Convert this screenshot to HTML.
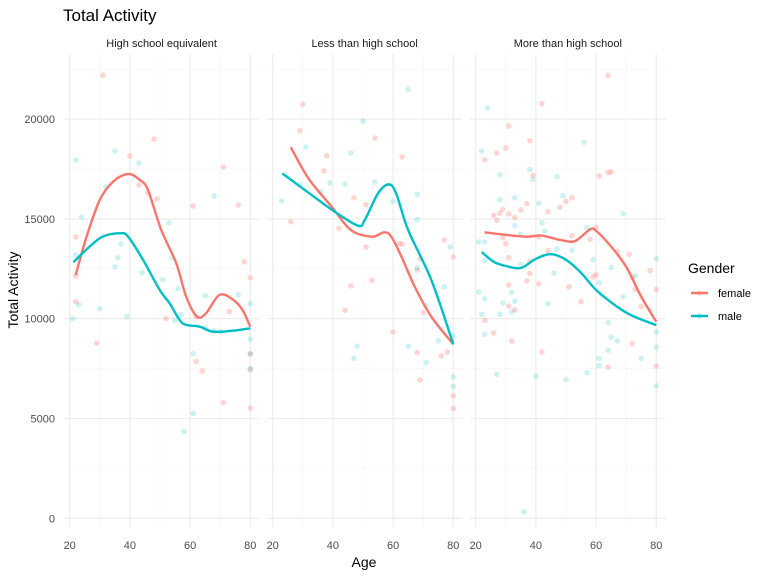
<!DOCTYPE html>
<html><head><meta charset="utf-8"><style>
body{margin:0;background:#fff;}
svg{display:block;font-family:"Liberation Sans",sans-serif;}
</style></head><body>
<svg id="chart" width="768" height="576">
<text x="63" y="21" font-size="17" fill="#000">Total Activity</text>
<text transform="translate(18,290) rotate(-90)" text-anchor="middle" font-size="14" fill="#000">Total Activity</text>
<text x="364" y="567" text-anchor="middle" font-size="14" fill="#000">Age</text>
<g>
<text x="688" y="273" font-size="14" fill="#000">Gender</text>
<g><line x1="691" y1="293" x2="708" y2="293" stroke="#F8766D" stroke-width="2.5"/><circle cx="699.5" cy="293" r="2.7" fill="#F8766D" opacity="0.3"/><text x="718" y="297" font-size="11" fill="#000">female</text></g>
<g><line x1="691" y1="316" x2="708" y2="316" stroke="#00BFC4" stroke-width="2.5"/><circle cx="699.5" cy="316" r="2.7" fill="#00BFC4" opacity="0.3"/><text x="718" y="320" font-size="11" fill="#000">male</text></g>
</g>
</svg>
<script>
const panelNames = ["High school equivalent","Less than high school","More than high school"];
const yTicks = [0,5000,10000,15000,20000];
const xTicks = [20,40,60,80];
// High school equivalent
const hsMaleAge = [21,22,24,22,23,30,35,32,37,36,35,39,43,44,53,51,54,56,55,57,65,68,76,80,61,61,58,68,70,65,80,80,80];
const hsMaleVal = [10000,17950,15100,13200,10700,10500,18400,16600,13750,13050,12600,10100,17800,12300,14800,11950,13050,11500,9900,10200,11150,16150,11200,10750,8250,5250,4350,9400,9350,9550,8980,8230,7500];
const hsFemAge = [31,22,22,22,29,40,48,43,46,49,61,71,76,78,80,52,62,73,62,64,71,80,80,80];
const hsFemVal = [22200,14100,12150,10850,8780,18150,19000,16700,16300,16000,15650,17600,15700,12850,12050,10000,10100,10350,7850,7380,5800,5520,7450,8250];
const hsFemFitAge = [22,25.6,30,34.4,39.4,43.3,46,50.4,55.4,58.7,62.3,65.3,69.7,74.1,77.4,80];
const hsFemFitVal = [12190,14110,15950,16860,17250,16950,16450,14450,12780,11100,10100,10270,11190,10970,10440,9600];
const hsMaleFitAge = [21.2,30,36.7,39.4,44.4,49.9,53.2,56.5,58.7,63.2,67.6,74.2,80];
const hsMaleFitVal = [12830,14030,14280,14110,12940,11440,10770,9940,9690,9600,9350,9400,9520];
// Less than high school
const ltMaleAge = [65,50,31,46,29,39,44,54,36,23,60,68,68,79,68,77,71,80,75,48,65,47,71,80,80];
const ltMaleVal = [21500,19900,18600,18300,16750,16800,16750,16850,16350,15900,15880,16230,14960,13590,12560,11600,10640,9150,8900,8630,8620,8020,7800,7080,6600];
const ltFemAge = [30,29,54,38,63,37,47,51,26,42,77,51,63,62,80,68,69,46,53,44,70,60,68,76,78,69,80,80];
const ltFemVal = [20740,19420,19050,18170,18100,17400,16060,15710,14860,14530,13940,13590,13730,13780,13090,12440,13000,11650,11920,10420,10300,9330,8300,8130,8330,6930,6140,5500];
const ltFemFitAge = [26,32,39.6,46,53,57,59.4,62.8,67.2,72.7,80];
const ltFemFitVal = [18590,17000,15610,14440,14110,14330,14110,13100,11600,10100,8720];
const ltMaleFitAge = [23.2,32,40.6,48.4,50.6,55,58.5,61,65,72.7,80];
const ltMaleFitVal = [17280,16300,15360,14660,14950,16280,16730,16280,14440,11940,8720];
// More than high school
const mtFemAge = [64,42,31,38,30,27,23,61,64,65,39,52,50,37,48,35,29,28,31,26,27,44,33,41,52,58,60,29,30,44,67,71,31,38,78,72,59,60,38,37,41,73,80,31,51,75,55,31,33,23,26,32,42,72,64,80];
const mtFemVal = [22190,20770,19650,18920,18550,18300,17960,17150,17320,17350,17180,16060,15880,15760,15580,15450,15480,15280,15250,15180,14930,15360,15060,14110,14160,13980,14560,14060,13760,13410,13380,13230,13060,12880,12410,12060,12100,12200,12270,11890,11750,11470,11470,11690,11600,10600,10850,10630,10440,9920,9280,8880,8330,8750,7570,7630];
const mtMaleAge = [24,56,22,38,28,47,39,49,33,28,41,69,42,33,57,43,35,21,23,52,47,23,59,80,35,65,46,61,73,21,32,23,69,33,29,44,32,28,22,64,78,23,65,67,64,61,61,75,80,80,80,27,40,50,57,36];
const mtMaleVal = [20570,18840,18400,17480,17200,17110,16980,16160,16060,15950,15780,15260,14810,14660,14560,14390,14230,13840,13840,13440,13490,12910,12960,13010,12730,12560,12290,11800,12150,11340,11320,11000,11100,10870,10790,10750,10340,10220,10220,9800,10420,9220,9080,8880,8420,8010,7650,8010,9330,8580,6630,7210,7110,6950,7300,330];
const mtFemFitAge = [23,30,37,42,48,53,58,60,65,70,75,80];
const mtFemFitVal = [14330,14200,14110,14160,13950,13890,14480,14400,13610,12600,11100,9850];
const mtMaleFitAge = [22,26,30,35,40,45,50,55,60,67,72,80];
const mtMaleFitVal = [13340,12850,12640,12540,13000,13230,12950,12300,11440,10600,10150,9670];

const panels = [
 {name:"high-school-equivalent", x20:69.7, left:64, right:259.3, fa:hsFemAge, fv:hsFemVal, ma:hsMaleAge, mv:hsMaleVal, ffa:hsFemFitAge, ffv:hsFemFitVal, mfa:hsMaleFitAge, mfv:hsMaleFitVal},
 {name:"less-than-high-school", x20:272.7, left:267, right:462.3, fa:ltFemAge, fv:ltFemVal, ma:ltMaleAge, mv:ltMaleVal, ffa:ltFemFitAge, ffv:ltFemFitVal, mfa:ltMaleFitAge, mfv:ltMaleFitVal},
 {name:"more-than-high-school", x20:475.7, left:470, right:665.7, fa:mtFemAge, fv:mtFemVal, ma:mtMaleAge, mv:mtMaleVal, ffa:mtFemFitAge, ffv:mtFemFitVal, mfa:mtMaleFitAge, mfv:mtMaleFitVal}
];
const NS="http://www.w3.org/2000/svg";
const svg=document.getElementById('chart');
const yScale=v=>518.3-v*0.01996;
function mk(tag,attrs,parent){const e=document.createElementNS(NS,tag);for(const k in attrs)e.setAttribute(k,attrs[k]);(parent||svg).appendChild(e);return e;}
function pathFrom(pts){let d="M"+pts[0][0]+","+pts[0][1];for(let i=0;i<pts.length-1;i++){const p0=pts[Math.max(i-1,0)],p1=pts[i],p2=pts[i+1],p3=pts[Math.min(i+2,pts.length-1)];const c1x=p1[0]+(p2[0]-p0[0])/6,c1y=p1[1]+(p2[1]-p0[1])/6,c2x=p2[0]-(p3[0]-p1[0])/6,c2y=p2[1]-(p3[1]-p1[1])/6;d+=" C"+c1x+","+c1y+" "+c2x+","+c2y+" "+p2[0]+","+p2[1];}return d;}
panels.forEach((p,pi)=>{
 const xs=a=>p.x20+(a-20)*3.01;
 const g=mk('g',{});
 
 
 for(let v=2500;v<=22500;v+=5000){const l=mk('line',{x1:p.left,x2:p.right,y1:yScale(v),y2:yScale(v),stroke:'#f3f3f3','stroke-width':0.6},g);}
 [30,50,70].forEach(a=>mk('line',{x1:xs(a),x2:xs(a),y1:54,y2:527,stroke:'#f3f3f3','stroke-width':0.6},g));
 yTicks.forEach(v=>{const l=mk('line',{x1:p.left,x2:p.right,y1:yScale(v),y2:yScale(v),stroke:'#ebebeb','stroke-width':1.1},g);});
 xTicks.forEach(a=>{mk('line',{x1:xs(a),x2:xs(a),y1:54,y2:527,stroke:'#ebebeb','stroke-width':1.1},g);
  const t=mk('text',{x:xs(a),y:549,'text-anchor':'middle','font-size':11,fill:'#4d4d4d'},g);t.textContent=a;
  });
 const st=mk('text',{x:(p.left+p.right)/2,y:47,'text-anchor':'middle','font-size':11,fill:'#1a1a1a'},g);st.textContent=panelNames[pi];
 
 p.fa.forEach((a,i)=>{const c=mk('circle',{cx:xs(a),cy:yScale(p.fv[i]),r:2.8,fill:'#F8766D','fill-opacity':0.3},g);});
 p.ma.forEach((a,i)=>{const c=mk('circle',{cx:xs(a),cy:yScale(p.mv[i]),r:2.8,fill:'#00BFC4','fill-opacity':0.2},g);});
 const fl=mk('path',{d:pathFrom(p.ffa.map((a,i)=>[xs(a),yScale(p.ffv[i])])),fill:'none',stroke:'#F8766D','stroke-width':2.4},g);
 
 const ml=mk('path',{d:pathFrom(p.mfa.map((a,i)=>[xs(a),yScale(p.mfv[i])])),fill:'none',stroke:'#00BFC4','stroke-width':2.4},g);
 
});
yTicks.forEach(v=>{const t=mk('text',{x:55,y:yScale(v)+4,'text-anchor':'end','font-size':11,fill:'#4d4d4d'});t.textContent=v;
 });
</script>
</body></html>
